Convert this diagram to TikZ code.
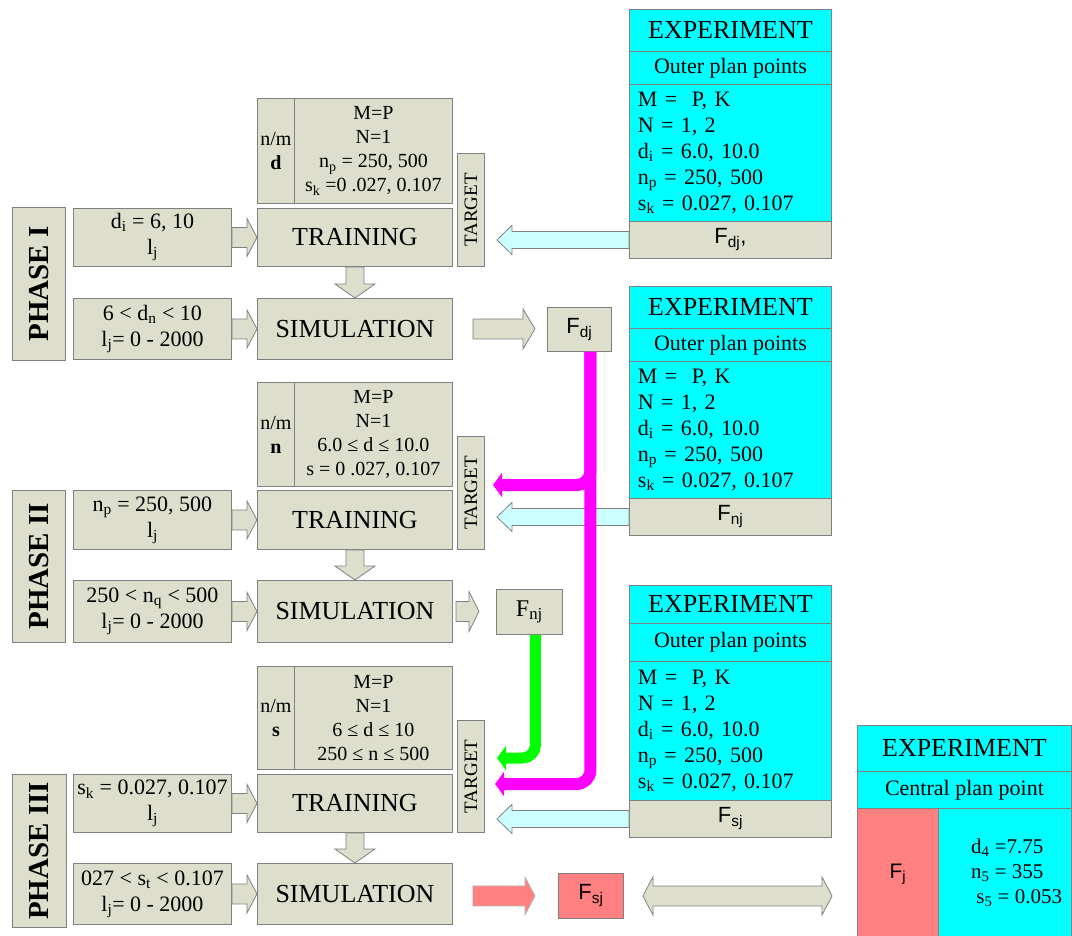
\documentclass[tikz,border=0pt]{standalone}
\usepackage{fontspec}
\setmainfont{Liberation Serif}
\newfontfamily\sansf{Liberation Sans}
\usetikzlibrary{calc,arrows.meta}
\definecolor{boxc}{RGB}{221,223,204}
\definecolor{bordc}{RGB}{128,128,128}
\definecolor{cyanc}{RGB}{0,255,255}
\definecolor{lcyan}{RGB}{204,255,255}
\definecolor{redc}{RGB}{255,128,128}
\definecolor{magc}{RGB}{255,0,255}
\definecolor{grnc}{RGB}{0,255,0}
\newcommand\subx[1]{\textsubscript{#1}}
\newcommand\fs[2]{\fontsize{#1}{#2}\selectfont}
% block arrow: #1 style, #2 start, #3 tip, #4 body half width, #5 head half width, #6 head length
\newcommand\blockarrow[6]{%
  \coordinate (hb) at ($(#3)!#6!(#2)$);
  \path[#1] ($(#2)!#4!90:(#3)$) -- ($(hb)!#4!-90:(#2)$) -- ($(hb)!#5!-90:(#2)$) -- (#3)
    -- ($(hb)!#5!90:(#2)$) -- ($(hb)!#4!90:(#2)$) -- ($(#2)!#4!-90:(#3)$) -- cycle;}
% double block arrow
\newcommand\dblarrow[6]{%
  \coordinate (hba) at ($(#2)!#6!(#3)$);
  \coordinate (hbb) at ($(#3)!#6!(#2)$);
  \path[#1] (#2) -- ($(hba)!#5!90:(#3)$) -- ($(hba)!#4!90:(#3)$) -- ($(hbb)!#4!-90:(#2)$)
    -- ($(hbb)!#5!-90:(#2)$) -- (#3) -- ($(hbb)!#5!90:(#2)$) -- ($(hbb)!#4!90:(#2)$)
    -- ($(hba)!#4!-90:(#3)$) -- ($(hba)!#5!-90:(#3)$) -- cycle;}
\begin{document}
\begin{tikzpicture}[x=1pt,y=-1pt,
  box/.style={draw=bordc, fill=boxc, line width=0.9pt, inner sep=0pt, anchor=north west, align=center},
  cbox/.style={box, fill=cyanc},
  rbox/.style={box, fill=redc},
  inp/.style={box, font=\fs{22pt}{26pt}},
  parm/.style={box, font=\fs{20pt}{24pt}},
  big/.style={font=\fs{26pt}{30pt}},
  mid/.style={font=\fs{22pt}{26pt}},
  sansl/.style={font=\sansf\fs{22pt}{26pt}},
  phasetxt/.style={rotate=90, font=\fs{29pt}{32pt}\bfseries},
  tgtxt/.style={rotate=90, font=\fs{19pt}{22pt}},
  garrow/.style={draw=bordc, fill=boxc, line width=0.8pt},
  carrow/.style={draw=bordc, fill=lcyan, line width=0.8pt},
  rarrow/.style={draw=bordc!60, fill=redc, line width=0.6pt},
  magline/.style={draw=magc, line width=12pt, rounded corners=14pt, -{Triangle[length=9pt,width=24pt]}},
  grnline/.style={draw=grnc, line width=11pt, rounded corners=13pt, -{Triangle[length=9pt,width=24pt]}}
]
\useasboundingbox (0,0) rectangle (1072,936);

% ---------------- PHASE I ----------------
\node[box, minimum width=53, minimum height=153] (ph1) at (12,207) {};
\node[phasetxt] (ph1t) at (ph1.center) {PHASE I};
\node[inp, minimum width=158, minimum height=58] (in1a) at (73,208) {d\subx{i} = 6, 10\\l\subx{j}};
\node[inp, minimum width=158, minimum height=61] (in1b) at (73,298) {6 < d\subx{n} < 10\\l\subx{j}= 0 - 2000};
\node[parm, minimum width=37, minimum height=105] (pl1) at (257,98) {n/m\\\textbf{d}};
\node[parm, minimum width=158, minimum height=105] (pr1) at (294,98) {M=P\\N=1\\n\subx{p} = 250, 500\\s\subx{k} =0 .027, 0.107};
\node[box, big, minimum width=195, minimum height=58] (tr1) at (257,208) {TRAINING};
\node[box, minimum width=27, minimum height=113] (tg1) at (457,153) {};
\node[tgtxt] (tg1t) at (tg1.center) {TARGET};
\node[box, big, minimum width=195, minimum height=61] (sim1) at (257,298) {SIMULATION};
\node[box, sansl, minimum width=64, minimum height=44] (fdj) at (547,307) {F\subx{dj}};

% Experiment 1
\node[cbox, big, minimum width=202, minimum height=42] (e1a) at (629,9) {EXPERIMENT};
\node[cbox, mid, minimum width=202, minimum height=33] (e1b) at (629,51) {Outer plan points};
\node[cbox, mid, minimum width=202, minimum height=137, text width=185, align=left] (e1c) at (629,84)
  {M =\ \ P, K\\N = 1, 2\\d\subx{i} = 6.0, 10.0\\n\subx{p} = 250, 500\\s\subx{k} = 0.027, 0.107};
\node[box, sansl, minimum width=202, minimum height=37] (e1d) at (629,221) {F\subx{dj},};

% ---------------- PHASE II ----------------
\node[box, minimum width=53, minimum height=152] (ph2) at (12,490) {};
\node[phasetxt] (ph2t) at (ph2.center) {PHASE II};
\node[inp, minimum width=158, minimum height=59] (in2a) at (73,490) {n\subx{p} = 250, 500\\l\subx{j}};
\node[inp, minimum width=158, minimum height=62] (in2b) at (73,580) {250 < n\subx{q} < 500\\l\subx{j}= 0 - 2000};
\node[parm, minimum width=37, minimum height=104] (pl2) at (257,382) {n/m\\\textbf{n}};
\node[parm, minimum width=158, minimum height=104] (pr2) at (294,382) {M=P\\N=1\\6.0 ≤ d ≤ 10.0\\s = 0 .027, 0.107};
\node[box, big, minimum width=195, minimum height=59] (tr2) at (257,490) {TRAINING};
\node[box, minimum width=27, minimum height=113] (tg2) at (457,436) {};
\node[tgtxt] (tg2t) at (tg2.center) {TARGET};
\node[box, big, minimum width=195, minimum height=62] (sim2) at (257,580) {SIMULATION};
\node[box, font=\fs{24pt}{28pt}, minimum width=66, minimum height=45] (fnj) at (496,589) {F\subx{nj}};

% Experiment 2
\node[cbox, big, minimum width=202, minimum height=42] (e2a) at (629,286) {EXPERIMENT};
\node[cbox, mid, minimum width=202, minimum height=33] (e2b) at (629,328) {Outer plan points};
\node[cbox, mid, minimum width=202, minimum height=137, text width=185, align=left] (e2c) at (629,361)
  {M =\ \ P, K\\N = 1, 2\\d\subx{i} = 6.0, 10.0\\n\subx{p} = 250, 500\\s\subx{k} = 0.027, 0.107};
\node[box, sansl, minimum width=202, minimum height=37] (e2d) at (629,498) {F\subx{nj}};

% ---------------- PHASE III ----------------
\node[box, minimum width=54, minimum height=153] (ph3) at (12,774) {};
\node[phasetxt] (ph3t) at (ph3.center) {PHASE III};
\node[inp, minimum width=158, minimum height=58] (in3a) at (73,774) {s\subx{k} = 0.027, 0.107\\l\subx{j}};
\node[inp, minimum width=158, minimum height=61] (in3b) at (73,863) {027 < s\subx{t} < 0.107\\l\subx{j}= 0 - 2000};
\node[parm, minimum width=37, minimum height=103] (pl3) at (257,666) {n/m\\\textbf{s}};
\node[parm, minimum width=158, minimum height=103] (pr3) at (294,666) {M=P\\N=1\\6 ≤ d ≤ 10\\250 ≤ n ≤ 500};
\node[box, big, minimum width=195, minimum height=58] (tr3) at (257,774) {TRAINING};
\node[box, minimum width=27, minimum height=112] (tg3) at (457,720) {};
\node[tgtxt] (tg3t) at (tg3.center) {TARGET};
\node[box, big, minimum width=195, minimum height=61] (sim3) at (257,863) {SIMULATION};
\node[rbox, sansl, minimum width=65, minimum height=45] (fsj) at (558,873) {F\subx{sj}};

% Experiment 3
\node[cbox, big, minimum width=202, minimum height=38] (e3a) at (629,585) {EXPERIMENT};
\node[cbox, mid, minimum width=202, minimum height=38] (e3b) at (629,623) {Outer plan points};
\node[cbox, mid, minimum width=202, minimum height=139, text width=185, align=left] (e3c) at (629,661)
  {M =\ \ P, K\\N = 1, 2\\d\subx{i} = 6.0, 10.0\\n\subx{p} = 250, 500\\s\subx{k} = 0.027, 0.107};
\node[box, sansl, minimum width=202, minimum height=37] (e3d) at (629,800) {F\subx{sj}};

% Experiment 4 (central plan point)
\node[cbox, big, minimum width=214, minimum height=46] (e4a) at (857,725) {EXPERIMENT};
\node[cbox, mid, minimum width=214, minimum height=37] (e4b) at (857,771) {Central plan point};
\node[rbox, font=\sansf\fs{21pt}{25pt}, minimum width=81, minimum height=132] (e4c) at (857,808) {F\subx{j}};
\node[cbox, minimum width=133, minimum height=132] (e4d) at (938,808) {};
\node[font=\fs{21pt}{25pt}, align=left, anchor=west, inner sep=0pt] (e4t) at (971,873)
  {d\subx{4} =7.75\\n\subx{5} = 355\\\ s\subx{5} = 0.053};

% ---------------- connectors ----------------
% inputs -> training / simulation
\blockarrow{garrow}{in1a.east}{tr1.west}{10pt}{19pt}{10pt}
\blockarrow{garrow}{in1b.east}{sim1.west}{10pt}{19pt}{10pt}
\blockarrow{garrow}{in2a.east}{tr2.west}{10pt}{19pt}{10pt}
\blockarrow{garrow}{in2b.east}{sim2.west}{10pt}{19pt}{10pt}
\blockarrow{garrow}{in3a.east}{tr3.west}{10pt}{19pt}{10pt}
\blockarrow{garrow}{in3b.east}{sim3.west}{10pt}{19pt}{10pt}
% training -> simulation
\blockarrow{garrow}{tr1.south}{sim1.north}{9pt}{20pt}{14pt}
\blockarrow{garrow}{tr2.south}{sim2.north}{9pt}{20pt}{14pt}
\blockarrow{garrow}{tr3.south}{sim3.north}{9pt}{20pt}{14pt}
% simulation -> F
\coordinate (s1a) at ($(sim1.east)+(20,0)$);
\coordinate (s1b) at ($(fdj.west |- sim1.east)+(-12,0)$);
\blockarrow{garrow}{s1a}{s1b}{10pt}{20pt}{12pt}
\coordinate (s2a) at ($(sim2.east)+(3,0)$);
\coordinate (s2b) at ($(fnj.west |- sim2.east)+(-17,0)$);
\blockarrow{garrow}{s2a}{s2b}{10pt}{20pt}{10pt}
\coordinate (s3a) at ($(sim3.east |- fsj.west)+(20,0)$);
\coordinate (s3b) at ($(fsj.west)+(-23,0)$);
\blockarrow{rarrow}{s3a}{s3b}{10pt}{19pt}{10pt}
% F_sj <-> central experiment
\coordinate (d1) at ($(fsj.east)+(19,0)$);
\coordinate (d2) at ($(e4c.west |- fsj.east)+(-25,0)$);
\dblarrow{garrow}{d1}{d2}{10pt}{19pt}{10pt}
% experiments -> target
\coordinate (c1) at ($(tg1.east |- e1d.west)+(12,0)$);
\blockarrow{carrow}{e1d.west}{c1}{8.5pt}{14.5pt}{15pt}
\coordinate (c2) at ($(tg2.east |- e2d.west)+(12,0)$);
\blockarrow{carrow}{e2d.west}{c2}{8.5pt}{14.5pt}{15pt}
\coordinate (c3) at ($(tg3.east |- e3d.west)+(12,0)$);
\blockarrow{carrow}{e3d.west}{c3}{8.5pt}{14.5pt}{15pt}
% F_dj -> targets of phases II and III (magenta)
\coordinate (ms) at ($(fdj.south)+(11,0)$);
\coordinate (m2) at (493,485);
\coordinate (m3) at (495,784);
\draw[magline] (ms) |- (m2);
\draw[magline] (ms) |- (m3);
% F_nj -> target of phase III (green)
\coordinate (gs) at ($(fnj.south)+(6,0)$);
\coordinate (g3) at (497,758);
\draw[grnline] (gs) |- (g3);
\end{tikzpicture}
\end{document}
